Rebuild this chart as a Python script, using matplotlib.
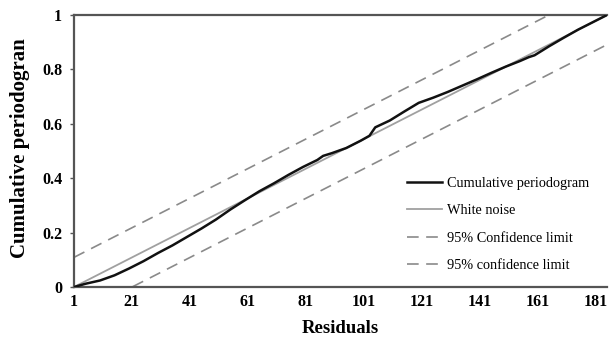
import matplotlib
matplotlib.use("Agg")
import matplotlib.pyplot as plt
import numpy as np

# ---- data ----
residual_idx = [1, 5, 10, 15, 20, 25, 30, 35, 40, 45, 50, 55, 60, 65, 70, 75, 80, 85, 87, 90,
                95, 100, 103, 105, 110, 115, 120, 125, 130, 135, 140, 145, 150, 155, 158, 160,
                165, 170, 175, 180, 185]
cum_periodogram = [0.000, 0.012, 0.024, 0.043, 0.068, 0.095, 0.125, 0.153, 0.184, 0.215, 0.248,
                   0.285, 0.319, 0.352, 0.381, 0.412, 0.441, 0.467, 0.482, 0.492,
                   0.511, 0.538, 0.556, 0.587, 0.612, 0.645, 0.677, 0.696, 0.717, 0.740, 0.763,
                   0.787, 0.810, 0.831, 0.845, 0.852, 0.885, 0.916, 0.946, 0.973, 1.000]
white_noise_x = [1, 185]
white_noise_y = [0.0, 1.0]
conf_offset = 0.109
x_ticks = [1, 21, 41, 61, 81, 101, 121, 141, 161, 181]
y_ticks = [0, 0.2, 0.4, 0.6, 0.8, 1]
y_ticklabels = ["0", "0.2", "0.4", "0.6", "0.8", "1"]

serif = ["Liberation Serif", "DejaVu Serif"]
plt.rcParams["font.family"] = serif

fig = plt.figure(figsize=(6.1, 3.4), dpi=100)
ax = fig.add_axes([74 / 610, 1 - 287 / 340, (607 - 74) / 610, (287 - 15) / 340])

# confidence limits
xs = np.linspace(white_noise_x[0], white_noise_x[1], 400)
wn = np.interp(xs, white_noise_x, white_noise_y)
upper = wn + conf_offset
lower = wn - conf_offset
mu = upper <= 1.0
ml = lower >= 0.0
dash = (0, (7, 4.5))
ax.plot(xs[mu], upper[mu], color="#8a8a8a", lw=1.2, linestyle=dash, label="95% Confidence limit", zorder=2)
ax.plot(xs[ml], lower[ml], color="#8a8a8a", lw=1.2, linestyle=dash, label="95% confidence limit", zorder=2)
ax.plot(white_noise_x, white_noise_y, color="#a0a0a0", lw=1.3, label="White noise", zorder=3)
ax.plot(residual_idx, cum_periodogram, color="#111111", lw=1.8, label="Cumulative periodogram", zorder=4)

ax.set_xlim(1, 185)
ax.set_ylim(0, 1)
ax.set_xticks(x_ticks)
ax.set_xticklabels([str(t) for t in x_ticks], fontsize=11.5, fontweight="bold")
ax.set_yticks(y_ticks)
ax.set_yticklabels(y_ticklabels, fontsize=11.5, fontweight="bold")
ax.tick_params(axis="x", length=0, pad=5)
ax.tick_params(axis="y", length=3, width=1, color="#555555", pad=5.5)

for s in ["left", "bottom", "top"]:
    ax.spines[s].set_color("#555555")
    ax.spines[s].set_linewidth(1.6)
ax.spines["right"].set_visible(False)

ax.set_xlabel("Residuals", fontsize=13.5, fontweight="bold", labelpad=7)
fig.text(20 / 610, 1 - 148 / 340, "Cumulative periodogran", rotation=90, fontsize=15,
         fontweight="bold", ha="center", va="center")

h, l = ax.get_legend_handles_labels()
order = [3, 2, 0, 1]
leg = ax.legend([h[i] for i in order], [l[i] for i in order], loc="center left",
                bbox_to_anchor=((407 - 74) / 533, (287 - 224.5) / 272), frameon=False, fontsize=10.3,
                handlelength=2.45, handletextpad=0.35, labelspacing=1.0,
                borderpad=0, borderaxespad=0)

fig.savefig("out.png", dpi=100)
